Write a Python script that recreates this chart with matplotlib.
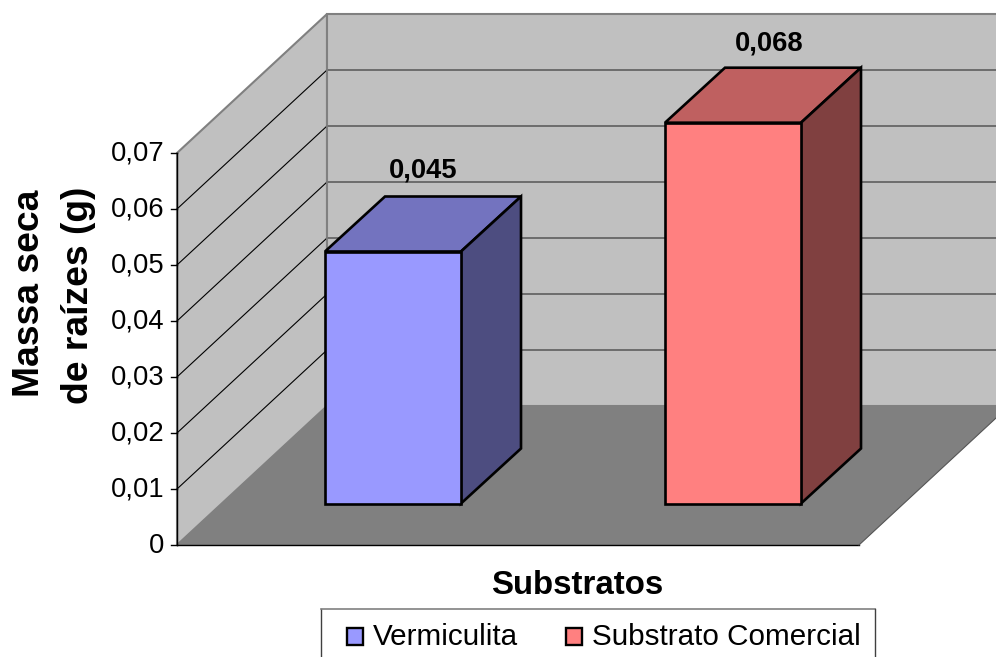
import matplotlib
matplotlib.use('Agg')
import matplotlib.pyplot as plt
from matplotlib.patches import Polygon, Rectangle

plt.rcParams['font.family'] = ['Liberation Sans', 'DejaVu Sans']

categories = ['Vermiculita', 'Substrato Comercial']
values = [0.045, 0.068]
value_labels = ['0,045', '0,068']
tick_values = [0, 0.01, 0.02, 0.03, 0.04, 0.05, 0.06, 0.07]
tick_labels = ['0', '0,01', '0,02', '0,03', '0,04', '0,05', '0,06', '0,07']

# layout in image pixels
x0, x1 = 177, 859
y_zero = 545
y_scale = 5600
wall_dx, wall_dy = 150, -139
bar_lefts = [325, 665]
bar_width = 136
bar_base = 503.5
bar_dx, bar_dy = 60, -55
label_dx = [98, 104]
label_dy = [-26, -24]
front_colors = ['#9999ff', '#ff8080']
top_colors = ['#7373bf', '#bf6060']
side_colors = ['#4d4d80', '#804040']


def py(v):
    return y_zero - v * y_scale


fig = plt.figure(figsize=(9.96, 6.57), dpi=100)
ax = fig.add_axes([0, 0, 1, 1])
ax.set_xlim(0, 996)
ax.set_ylim(657, 0)
ax.axis('off')

y_top = py(0.07)
# walls and floor
ax.add_patch(Polygon([(x0, y_zero), (x0 + wall_dx, y_zero + wall_dy), (x0 + wall_dx, y_top + wall_dy), (x0, y_top)],
                     fc='#c0c0c0', ec='#808080', lw=1.5, zorder=1))
ax.add_patch(Rectangle((x0 + wall_dx, y_top + wall_dy), 700, y_zero - y_top,
                       fc='#c0c0c0', ec='#808080', lw=1.5, zorder=1))
ax.add_patch(Polygon([(x0, y_zero), (x0 + wall_dx, y_zero + wall_dy), (x1 + wall_dx, y_zero + wall_dy), (x1, y_zero)],
                     fc='#808080', ec='none', zorder=1.5))

# gridlines
for t in tick_values[1:-1]:
    ax.plot([x0, x0 + wall_dx], [py(t), py(t) + wall_dy], color='black', lw=0.8, zorder=2)
    ax.plot([x0 + wall_dx, 1000], [py(t) + wall_dy, py(t) + wall_dy], color='#555555', lw=1.1, zorder=2)
ax.plot([x0 + wall_dx, x0 + wall_dx], [y_top + wall_dy, y_zero + wall_dy], color='#808080', lw=1.2, zorder=2)

# axis and ticks
ax.plot([x0, x0], [y_top, y_zero], color='black', lw=1, zorder=3)
ax.plot([x0, x1], [y_zero, y_zero], color='black', lw=1, zorder=3)
ax.plot([x1, x1 + wall_dx], [y_zero, y_zero + wall_dy], color='#555555', lw=0.8, zorder=3)
for t, lab in zip(tick_values, tick_labels):
    ax.plot([x0 - 6, x0], [py(t), py(t)], color='black', lw=1, zorder=3)
    ax.text(x0 - 13, py(t) + 1, lab, ha='right', va='center', fontsize=19.7, color='black')

# bars
for i, (left, v, lab) in enumerate(zip(bar_lefts, values, value_labels)):
    top = bar_base - v * y_scale
    right = left + bar_width
    ax.add_patch(Polygon([(left, top), (left + bar_dx, top + bar_dy), (right + bar_dx, top + bar_dy), (right, top)],
                         fc=top_colors[i], ec='black', lw=1.9, joinstyle='miter', zorder=4))
    ax.add_patch(Polygon([(right, top), (right + bar_dx, top + bar_dy), (right + bar_dx, bar_base + bar_dy), (right, bar_base)],
                         fc=side_colors[i], ec='black', lw=1.9, joinstyle='miter', zorder=4))
    ax.add_patch(Rectangle((left, top), bar_width, bar_base - top, fc=front_colors[i], ec='black', lw=1.9, zorder=5))
    ax.text(left + label_dx[i], top + bar_dy + label_dy[i], lab, ha='center', va='center',
            fontsize=19.7, fontweight='bold', zorder=6)

# axis titles
ax.text(30, 293, 'Massa seca', rotation=90, ha='center', va='center', fontsize=26.8, fontweight='bold')
ax.text(78, 295, 'de raízes (g)', rotation=90, ha='center', va='center', fontsize=26.8, fontweight='bold')
ax.text(577, 586, 'Substratos', ha='center', va='center', fontsize=23.8, fontweight='bold')

# legend box, cut off by the image edge
ax.plot([320.5, 320.5], [660, 608.5], color='#404040', lw=1)
ax.plot([320.5, 874.5], [608.5, 608.5], color='#808080', lw=1.2)
ax.plot([874.5, 874.5], [608.5, 660], color='#404040', lw=1)
legend_x = [347, 566]
for lx, name, fc in zip(legend_x, categories, front_colors):
    ax.add_patch(Rectangle((lx, 627.5), 16, 17, fc=fc, ec='black', lw=1.7))
    ax.text(lx + 26, 645, name, ha='left', va='baseline', fontsize=21.3)

fig.savefig('out.png', dpi=100)
